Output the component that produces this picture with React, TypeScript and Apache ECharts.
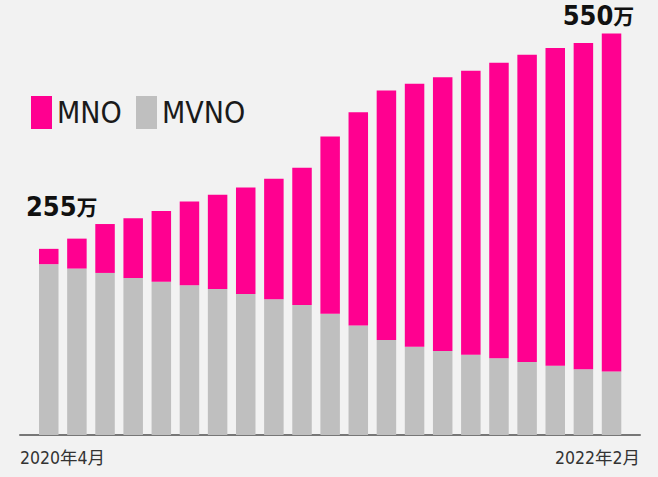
import React, { useEffect, useRef } from "react";
import * as echarts from "echarts";

const categories = ["1","2","3","4","5","6","7","8","9","10","11","12","13","14","15","16","17","18","19","20","21"];
const mvnoValues = [234, 228, 222, 215, 210, 205, 200, 193, 186, 178, 166, 150, 130, 121, 115, 110, 105, 100, 95, 90, 87];
const mnoValues = [21, 41, 67, 82, 97, 115, 129, 146, 165, 188, 243, 292, 342, 360, 375, 389, 405, 421, 435, 447, 463];
const tickLabels = ["2020年4月", "2022年2月"];
const seriesNames = ["MNO", "MVNO"];

const FONT = "'Liberation Sans Narrow', 'DejaVu Sans Condensed', 'Noto Sans CJK JP', sans-serif";
const PINK = "#FF0090";
const GRAY = "#BFBFBF";

export default function App() {
  const ref = useRef<HTMLDivElement>(null);
  useEffect(() => {
    if (!ref.current) return;
    const chart = echarts.init(ref.current, null, { renderer: "svg" });
    const last = mnoValues.length - 1;
    const valueLabel = {
      show: true,
      position: "top",
      color: "#111",
      fontFamily: FONT,
      formatter: (p: any) => `{n|${mvnoValues[p.dataIndex] + mnoValues[p.dataIndex]}}{u|万}`,
      rich: {
        n: { fontSize: 27, fontWeight: "bold", color: "#111", fontFamily: FONT },
        u: { fontSize: 21, fontWeight: "bold", color: "#111", fontFamily: "'Noto Sans CJK JP', sans-serif" },
      },
    };
    const mnoData = mnoValues.map((v, i) => {
      if (i === 0) return { value: v, label: { ...valueLabel, offset: [13, -24] } };
      if (i === last) return { value: v, label: { ...valueLabel, offset: [-13, 0] } };
      return { value: v };
    });
    const legendText = { fontSize: 30, color: "#1a1a1a", fontFamily: FONT };
    chart.setOption({
      animation: false,
      backgroundColor: "#F2F2F2",
      textStyle: { fontFamily: FONT },
      legend: [
        {
          data: [seriesNames[0]],
          left: 31,
          top: 96,
          padding: 0,
          icon: "rect",
          itemWidth: 21,
          itemHeight: 33,
          itemGap: 0,
          textStyle: legendText,
        },
        {
          data: [seriesNames[1]],
          left: 136,
          top: 96,
          padding: 0,
          icon: "rect",
          itemWidth: 21,
          itemHeight: 33,
          itemGap: 0,
          textStyle: legendText,
        },
      ],
      grid: [
        { left: 34.7, width: 590.9, top: 26.2, bottom: 42 },
        { left: 20, right: 18, top: 26.2, bottom: 42 },
      ],
      xAxis: [
        {
          type: "category",
          gridIndex: 0,
          data: categories,
          axisLine: { show: false },
          axisTick: { show: false },
          axisLabel: { show: false },
        },
        {
          type: "category",
          gridIndex: 1,
          data: tickLabels,
          boundaryGap: false,
          axisLine: { show: true, lineStyle: { color: "#777", width: 2 } },
          axisTick: { show: false },
          axisLabel: {
            show: true,
            interval: 0,
            fontSize: 17.5,
            color: "#333",
            fontFamily: FONT,
            margin: 14,
            alignMinLabel: "left",
            alignMaxLabel: "right",
          },
        },
      ],
      yAxis: [
        { type: "value", gridIndex: 0, min: 0, max: 560, show: false, splitLine: { show: false } },
        { type: "value", gridIndex: 1, min: 0, max: 560, show: false, splitLine: { show: false } },
      ],
      series: [
        {
          name: seriesNames[1],
          type: "bar",
          stack: "total",
          xAxisIndex: 0,
          yAxisIndex: 0,
          barWidth: 19.5,
          itemStyle: { color: GRAY },
          data: mvnoValues,
        },
        {
          name: seriesNames[0],
          type: "bar",
          stack: "total",
          xAxisIndex: 0,
          yAxisIndex: 0,
          barWidth: 19.5,
          itemStyle: { color: PINK },
          data: mnoData,
        },
      ],
    });
    return () => chart.dispose();
  }, []);
  return (
    <div
      ref={ref}
      style={{ position: "absolute", left: 0, top: 0, width: 658, height: 477, background: "#F2F2F2" }}
    />
  );
}
